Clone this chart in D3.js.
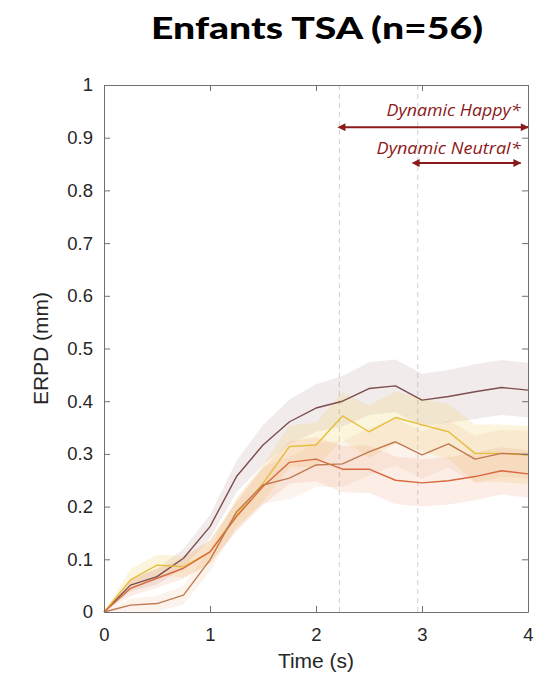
<!DOCTYPE html>
<html>
<head>
<meta charset="utf-8">
<script src="https://cdn.jsdelivr.net/npm/d3@7"></script>
<style>
  html, body { margin: 0; padding: 0; background: #fff; overflow: hidden; }
  svg { display: block; }
</style>
</head>
<body>
<svg id="chart"></svg>
<script>
// time points (s)
const times = [0, 0.25, 0.5, 0.75, 1, 1.25, 1.5, 1.75, 2, 2.25, 2.5, 2.75, 3, 3.25, 3.5, 3.75, 4];

// mean ERPD per condition
const darkMean = [0, 0.051, 0.067, 0.102, 0.162, 0.257, 0.317, 0.361, 0.387, 0.400, 0.424, 0.429, 0.402, 0.409, 0.418, 0.426, 0.421];
const yellowMean = [0, 0.061, 0.089, 0.086, 0.114, 0.184, 0.244, 0.314, 0.317, 0.372, 0.342, 0.369, 0.355, 0.342, 0.301, 0.301, 0.298];
const redMean = [0, 0.045, 0.064, 0.083, 0.114, 0.181, 0.238, 0.284, 0.290, 0.271, 0.271, 0.250, 0.245, 0.249, 0.257, 0.268, 0.262];
const brownMean = [0, 0.013, 0.016, 0.032, 0.099, 0.190, 0.241, 0.254, 0.279, 0.281, 0.304, 0.323, 0.298, 0.319, 0.290, 0.301, 0.299];

// standard error (shaded bands)
const darkSe = [0, 0.012, 0.015, 0.018, 0.022, 0.030, 0.038, 0.042, 0.045, 0.048, 0.050, 0.050, 0.050, 0.050, 0.052, 0.052, 0.052];
const yellowSe = [0, 0.020, 0.020, 0.020, 0.022, 0.028, 0.035, 0.040, 0.042, 0.045, 0.050, 0.050, 0.050, 0.052, 0.055, 0.055, 0.055];
const redSe = [0, 0.015, 0.018, 0.020, 0.022, 0.028, 0.035, 0.040, 0.042, 0.044, 0.045, 0.045, 0.045, 0.045, 0.045, 0.045, 0.045];
const brownSe = [0, 0.012, 0.015, 0.018, 0.022, 0.028, 0.035, 0.040, 0.042, 0.044, 0.045, 0.045, 0.045, 0.045, 0.045, 0.045, 0.045];

const yTicks = [0, 0.1, 0.2, 0.3, 0.4, 0.5, 0.6, 0.7, 0.8, 0.9, 1];
const xTicks = [0, 1, 2, 3, 4];

// significant windows (dashed onset lines + arrows)
const onsets = [2.22, 2.96];
const annotations = [
  { label: "Dynamic Happy*", from: 2.27, to: 4.0, y: 0.92, textY: 0.942, textWidth: 134 },
  { label: "Dynamic Neutral*", from: 2.97, to: 3.93, y: 0.852, textY: 0.870, textWidth: 144 }
];

const series = [
  { mean: darkMean, se: darkSe, color: "#7d4e4e", fill: "#b08888", alpha: 0.17 },
  { mean: yellowMean, se: yellowSe, color: "#e6be3c", fill: "#f2cc5a", alpha: 0.2 },
  { mean: redMean, se: redSe, color: "#d8683e", fill: "#ec9470", alpha: 0.17 },
  { mean: brownMean, se: brownSe, color: "#c07a50", fill: "#e8a878", alpha: 0.14 }
];

const width = 557;
const height = 679;
const margin = { top: 85, right: 29, bottom: 67, left: 104 };
const innerWidth = width - margin.left - margin.right;
const innerHeight = height - margin.top - margin.bottom;

const svg = d3.select("#chart").attr("width", width).attr("height", height);
svg.append("rect").attr("width", width).attr("height", height).attr("fill", "#fff");

const x = d3.scaleLinear().domain([0, 4]).range([0, innerWidth]);
const y = d3.scaleLinear().domain([0, 1]).range([innerHeight, 0]);

const chart = svg.append("g").attr("transform", `translate(${margin.left},${margin.top})`);

// dashed onset lines
chart.selectAll(".onset")
  .data(onsets)
  .enter()
  .append("line")
  .attr("x1", (d) => x(d))
  .attr("x2", (d) => x(d))
  .attr("y1", 0)
  .attr("y2", innerHeight)
  .attr("stroke", "#d0d0d0")
  .attr("stroke-width", 1)
  .attr("stroke-dasharray", "5,4");

// bands
const area = d3.area()
  .x((d, i) => x(times[i]))
  .y0((d) => y(d[0]))
  .y1((d) => y(d[1]));

series.forEach((s) => {
  const band = s.mean.map((m, i) => [m - s.se[i], m + s.se[i]]);
  chart.append("path")
    .datum(band)
    .attr("d", area)
    .attr("fill", s.fill)
    .attr("fill-opacity", s.alpha)
    .attr("stroke", "none");
});

// mean lines
const line = d3.line()
  .x((d, i) => x(times[i]))
  .y((d) => y(d));

series.forEach((s) => {
  chart.append("path")
    .datum(s.mean)
    .attr("d", line)
    .attr("fill", "none")
    .attr("stroke", s.color)
    .attr("stroke-width", 1.4)
    .attr("stroke-linejoin", "round");
});

// axes (MATLAB style box, ticks inside)
const axisColor = "#707070";
const tickFont = "'Liberation Sans', Arial, sans-serif";

const xAxis = chart.append("g")
  .attr("transform", `translate(0,${innerHeight})`)
  .call(d3.axisBottom(x).tickValues(xTicks).tickSizeInner(-6).tickSizeOuter(0).tickPadding(16).tickFormat(d3.format("d")));
const yAxis = chart.append("g")
  .call(d3.axisLeft(y).tickValues(yTicks).tickSizeInner(-6).tickSizeOuter(0).tickPadding(11).tickFormat((d) => (d === 0 || d === 1 ? d3.format("d")(d) : d3.format(".1f")(d))));
const xTop = chart.append("g")
  .call(d3.axisTop(x).tickValues(xTicks).tickSizeInner(-6).tickSizeOuter(0));
const yRight = chart.append("g")
  .attr("transform", `translate(${innerWidth},0)`)
  .call(d3.axisRight(y).tickValues(yTicks).tickSizeInner(-6).tickSizeOuter(0));

// mirrored axes carry no labels
xTop.selectAll(".tick text").remove();
yRight.selectAll(".tick text").remove();

[xAxis, yAxis, xTop, yRight].forEach((g) => {
  g.select(".domain").attr("stroke", axisColor).attr("stroke-width", 1);
  g.selectAll(".tick line").attr("stroke", axisColor);
  g.selectAll(".tick text")
    .attr("fill", "#262626")
    .attr("font-family", tickFont)
    .attr("font-size", "18.5px");
});

// annotations
const annColor = "#8b1a1a";
const defs = svg.append("defs");
["start", "end"].forEach((k) => {
  defs.append("marker")
    .attr("id", "arrow-" + k)
    .attr("viewBox", "0 0 10 10")
    .attr("refX", k === "end" ? 9 : 1)
    .attr("refY", 5)
    .attr("markerWidth", 4.5)
    .attr("markerHeight", 4)
    .attr("orient", "auto-start-reverse")
    .attr("markerUnits", "strokeWidth")
    .append("path")
    .attr("d", "M0,0 L10,5 L0,10 Z")
    .attr("fill", annColor);
});

annotations.forEach((a) => {
  chart.append("line")
    .attr("x1", x(a.from))
    .attr("x2", x(a.to))
    .attr("y1", y(a.y))
    .attr("y2", y(a.y))
    .attr("stroke", annColor)
    .attr("stroke-width", 2)
    .attr("marker-start", "url(#arrow-start)")
    .attr("marker-end", "url(#arrow-end)");
  chart.append("text")
    .attr("x", x(3.93))
    .attr("y", y(a.textY))
    .attr("text-anchor", "end")
    .attr("font-family", "'Open Sans', 'Liberation Sans', sans-serif")
    .attr("font-style", "italic")
    .attr("font-size", "15.5px")
    .attr("textLength", a.textWidth)
    .attr("lengthAdjust", "spacingAndGlyphs")
    .attr("fill", annColor)
    .text(a.label);
});

// axis labels
svg.append("text")
  .attr("x", margin.left + innerWidth / 2)
  .attr("y", 668)
  .attr("text-anchor", "middle")
  .attr("font-family", tickFont)
  .attr("font-size", "21px")
  .attr("fill", "#262626")
  .text("Time (s)");

svg.append("text")
  .attr("transform", `translate(48,${margin.top + innerHeight / 2}) rotate(-90)`)
  .attr("text-anchor", "middle")
  .attr("font-family", tickFont)
  .attr("font-size", "21px")
  .attr("fill", "#262626")
  .text("ERPD (mm)");

// title
svg.append("text")
  .attr("x", 317)
  .attr("y", 39)
  .attr("text-anchor", "middle")
  .attr("font-family", "Lato, 'Open Sans', sans-serif")
  .attr("font-weight", "900")
  .attr("font-size", "31px")
  .attr("textLength", 332)
  .attr("lengthAdjust", "spacingAndGlyphs")
  .attr("fill", "#000")
  .text("Enfants TSA (n=56)");
</script>
</body>
</html>
